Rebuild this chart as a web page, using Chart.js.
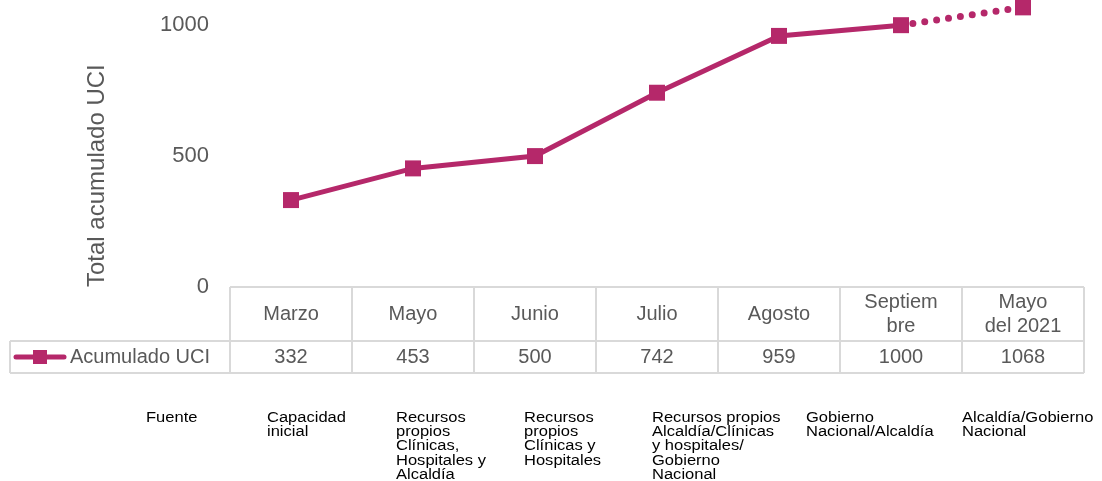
<!DOCTYPE html>
<html>
<head>
<meta charset="utf-8">
<script src="https://cdn.jsdelivr.net/npm/chart.js@4.4.0/dist/chart.umd.min.js"></script>
<style>
  html, body { margin: 0; padding: 0; background: #fff; }
  #wrap { width: 1102px; height: 481px; }
</style>
</head>
<body>
<div id="wrap"><canvas id="chartUci" width="1102" height="481"></canvas></div>
<script>
// data
var months = [["Marzo"], ["Mayo"], ["Junio"], ["Julio"], ["Agosto"], ["Septiem", "bre"], ["Mayo", "del 2021"]];
var acumuladoUci = [332, 453, 500, 742, 959, 1000, 1068];
var yTicks = [0, 500, 1000];
var fuenteLabel = "Fuente";
var fuentes = [
    ["Capacidad", "inicial"],
    ["Recursos", "propios", "Clínicas,", "Hospitales y", "Alcaldía"],
    ["Recursos", "propios", "Clínicas y", "Hospitales"],
    ["Recursos propios", "Alcaldía/Clínicas", "y hospitales/", "Gobierno", "Nacional"],
    ["Gobierno", "Nacional/Alcaldía"],
    ["Alcaldía/Gobierno", "Nacional"]
];
var seriesName = "Acumulado UCI";

var lineColor = "#B5286A";
var gridColor = "#D9D9D9";
var textGray = "#595959";
var fontFamily = "'Liberation Sans', Arial, sans-serif";

function isLast(c) { return c.p1DataIndex === acumuladoUci.length - 1; }

// draws the data table under the plot and the source notes
var tablePlugin = {
    id: 'dataTable',
    afterDraw: function (chart) {
        var ctx = chart.ctx;
        var x = chart.scales.x;
        var area = chart.chartArea;
        var half = (x.getPixelForValue(1) - x.getPixelForValue(0)) / 2;
        var left = x.getPixelForValue(0) - half;
        var right = x.getPixelForValue(months.length - 1) + half;
        var top = area.bottom;
        var rowMid = top + 54;
        var rowEnd = rowMid + 32;
        var legendLeft = 10;

        ctx.save();
        ctx.strokeStyle = gridColor;
        ctx.lineWidth = 2;
        ctx.beginPath();
        ctx.moveTo(left, top); ctx.lineTo(right, top);
        ctx.moveTo(legendLeft, rowMid); ctx.lineTo(right, rowMid);
        ctx.moveTo(legendLeft, rowEnd); ctx.lineTo(right, rowEnd);
        ctx.moveTo(legendLeft, rowMid); ctx.lineTo(legendLeft, rowEnd);
        for (var i = 0; i <= months.length; i++) {
            var bx = left + i * half * 2;
            ctx.moveTo(bx, top); ctx.lineTo(bx, rowEnd);
        }
        ctx.stroke();

        ctx.fillStyle = textGray;
        ctx.font = "20px " + fontFamily;
        ctx.textAlign = "center";
        ctx.textBaseline = "middle";
        months.forEach(function (lines, i) {
            var cx = x.getPixelForValue(i);
            var cy = (top + rowMid) / 2 - (lines.length - 1) * 12;
            lines.forEach(function (t, j) { ctx.fillText(t, cx, cy + j * 24); });
            ctx.fillText(String(acumuladoUci[i]), cx, (rowMid + rowEnd) / 2);
        });

        // legend key
        var ly = (rowMid + rowEnd) / 2;
        ctx.strokeStyle = lineColor;
        ctx.lineWidth = 5;
        ctx.lineCap = "round";
        ctx.beginPath();
        ctx.moveTo(16, ly); ctx.lineTo(64, ly);
        ctx.stroke();
        ctx.fillStyle = lineColor;
        ctx.fillRect(33, ly - 7, 14, 14);
        ctx.fillStyle = textGray;
        ctx.textAlign = "left";
        ctx.fillText(seriesName, 70, ly);

        // source notes
        var noteX = [146, 267, 396, 524, 652, 806, 962];
        var notes = [[fuenteLabel]].concat(fuentes);
        ctx.fillStyle = "#000";
        ctx.font = "14px " + fontFamily;
        ctx.textBaseline = "alphabetic";
        notes.forEach(function (lines, i) {
            lines.forEach(function (t, j) {
                ctx.save();
                ctx.translate(noteX[i], 422 + j * 14.2);
                ctx.scale(1.18, 1);
                ctx.fillText(t, 0, 0);
                ctx.restore();
            });
        });
        ctx.restore();
    }
};

new Chart(document.getElementById('chartUci'), {
    type: 'line',
    data: {
        labels: months.map(function (m) { return m.join(" "); }),
        datasets: [{
            label: seriesName,
            data: acumuladoUci,
            borderColor: lineColor,
            backgroundColor: lineColor,
            borderWidth: 5,
            pointStyle: 'rect',
            pointRadius: 11.3,
            pointHoverRadius: 11.3,
            pointBorderWidth: 0,
            clip: false,
            segment: {
                borderDash: function (c) { return isLast(c) ? [0, 12] : undefined; },
                borderCapStyle: function (c) { return isLast(c) ? 'round' : 'butt'; },
                borderWidth: function (c) { return isLast(c) ? 7 : 5; }
            }
        }]
    },
    options: {
        responsive: false,
        animation: false,
        layout: { padding: { left: 0, right: 18, top: 0, bottom: 194 } },
        plugins: {
            legend: { display: false },
            tooltip: { enabled: false }
        },
        scales: {
            x: {
                display: false,
                offset: true
            },
            y: {
                min: 0,
                max: 1053,
                afterBuildTicks: function (scale) {
                    scale.ticks = yTicks.map(function (v) { return { value: v }; });
                },
                afterFit: function (scale) {
                    scale.width = 230;
                    scale.paddingTop = 0;
                    scale.paddingBottom = 0;
                },
                grid: { display: false },
                border: { display: false },
                ticks: {
                    color: textGray,
                    padding: 13,
                    font: { family: fontFamily, size: 22 },
                    callback: function (v) { return String(v); }
                },
                title: {
                    display: true,
                    text: 'Total acumulado UCI',
                    color: textGray,
                    align: 'start',
                    padding: { top: 83, bottom: 0 },
                    font: { family: fontFamily, size: 24 }
                }
            }
        }
    },
    plugins: [tablePlugin]
});
</script>
</body>
</html>
